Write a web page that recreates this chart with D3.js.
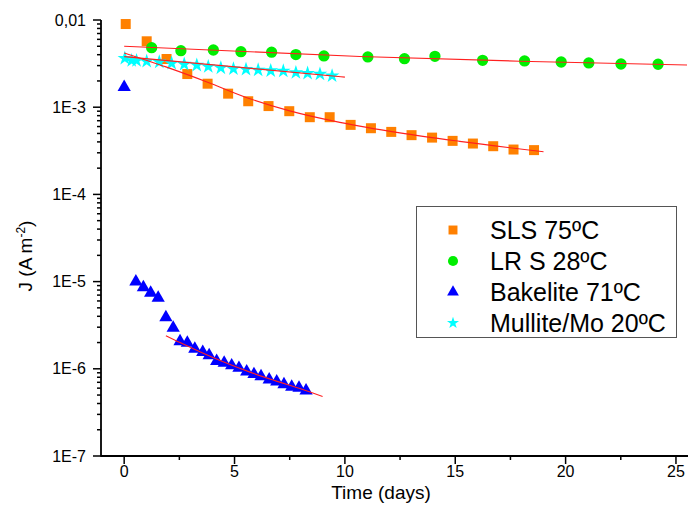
<!DOCTYPE html>
<html><head><meta charset="utf-8">
<script src="https://cdn.jsdelivr.net/npm/d3@7"></script>
<style>body{margin:0;background:#fff}svg{display:block}text{font-family:"Liberation Sans",Arial,sans-serif}</style>
</head><body><svg id="c" width="688" height="522"></svg>
<script>
// ---- data ----
const slsT = [0.07,1.02,1.92,2.86,3.78,4.71,5.62,6.54,7.48,8.41,9.31,10.26,11.18,12.1,13.02,13.95,14.88,15.8,16.72,17.64,18.57];
const slsJ = [8.99e-3,5.7e-3,3.57e-3,2.4e-3,1.86e-3,1.43e-3,1.17e-3,1.03e-3,9.0e-4,7.68e-4,7.68e-4,6.27e-4,5.74e-4,5.21e-4,4.78e-4,4.48e-4,4.11e-4,3.83e-4,3.57e-4,3.27e-4,3.22e-4];
const lrsT = [1.245,2.57,4.04,5.29,6.68,7.78,9.05,11.04,12.7,14.08,16.24,18.14,19.8,21.05,22.51,24.19];
const lrsJ = [4.82e-3,4.45e-3,4.53e-3,4.33e-3,4.27e-3,4.01e-3,3.87e-3,3.77e-3,3.6e-3,3.83e-3,3.45e-3,3.39e-3,3.3e-3,3.22e-3,3.13e-3,3.11e-3];
const bakT = [0,0.53,0.87,1.2,1.54,1.89,2.22,2.53,2.86,3.2,3.56,3.85,4.19,4.53,4.87,5.2,5.55,5.88,6.2,6.57,6.91,7.24,7.59,7.92,8.24];
const bakJ = [1.7e-3,1.0e-5,8.58e-6,7.4e-6,6.49e-6,3.89e-6,2.94e-6,2.06e-6,1.98e-6,1.69e-6,1.55e-6,1.42e-6,1.22e-6,1.17e-6,1.09e-6,1.02e-6,9.29e-7,8.65e-7,8.2e-7,7.52e-7,7.13e-7,6.64e-7,6.2e-7,6.04e-7,5.62e-7];
const mulT = [0.03,0.34,0.56,1.02,1.59,2.15,2.72,3.29,3.81,4.38,4.95,5.52,6.07,6.64,7.21,7.78,8.31,8.87,9.42];
const mulJ = [3.64e-3,3.42e-3,3.42e-3,3.36e-3,3.3e-3,3.19e-3,3.11e-3,3.03e-3,2.92e-3,2.82e-3,2.75e-3,2.72e-3,2.67e-3,2.62e-3,2.6e-3,2.49e-3,2.45e-3,2.4e-3,2.29e-3];
// fitted curves
const slsFitT = [0,1.89,3.75,5.7,7.5,9.77,12.49,15.2,19.0];
const slsFitJ = [4.19e-3,2.9e-3,1.95e-3,1.25e-3,9.07e-4,6.7e-4,5.08e-4,4.06e-4,3.08e-4];
const lrsFitT = [0,10.68,17.93,25.5];
const lrsFitJ = [5.0e-3,3.82e-3,3.37e-3,3.05e-3];
const bakFitT = [1.89,2.53,3.43,4.57,5.7,6.83,7.96,8.99];
const bakFitJ = [2.4e-6,2.0e-6,1.57e-6,1.18e-6,9.16e-7,7.32e-7,5.93e-7,4.8e-7];
const mulFitT = [0,5.02,10.0];
const mulFitJ = [3.8e-3,2.9e-3,2.21e-3];
const seriesNames = ["SLS 75ºC","LR S 28ºC","Bakelite 71ºC","Mullite/Mo 20ºC"];
const xTicks = [0,5,10,15,20,25];
const xMinor = [2.5,7.5,12.5,17.5,22.5];
const yTicks = [1e-2,1e-3,1e-4,1e-5,1e-6,1e-7];
const yTickLabels = ["0,01","1E-3","1E-4","1E-5","1E-6","1E-7"];

// ---- chart ----
const svg = d3.select("#c");
const x = d3.scaleLinear().domain([-1.05,25.5]).range([101,687]);
const y = d3.scaleLog().domain([1e-7,1e-2]).range([456,20]);

const series = [
  {t:slsT,j:slsJ,ft:slsFitT,fj:slsFitJ,sym:d3.symbolSquare,size:100,lsize:80,color:"#FF8000"},
  {t:lrsT,j:lrsJ,ft:lrsFitT,fj:lrsFitJ,sym:d3.symbolCircle,size:100,lsize:80,color:"#00EE00"},
  {t:bakT,j:bakJ,ft:bakFitT,fj:bakFitJ,sym:d3.symbolTriangle,size:76,lsize:60,color:"#0000FF"},
  {t:mulT,j:mulJ,ft:mulFitT,fj:mulFitJ,sym:d3.symbolStar,size:66,lsize:45,color:"#00FFFF"}
];

// markers
series.forEach(s=>{
  svg.append("g").selectAll("path").data(s.t.map((t,i)=>[t,s.j[i]])).join("path")
    .attr("transform",d=>`translate(${x(d[0])},${y(d[1])})`)
    .attr("d",d3.symbol(s.sym,s.size)).attr("fill",s.color);
});
// fit lines
const line = d3.line().x(d=>x(d[0])).y(d=>y(d[1])).curve(d3.curveMonotoneX);
series.forEach(s=>{
  svg.append("path").datum(s.ft.map((t,i)=>[t,s.fj[i]]))
    .attr("d",line).attr("fill","none").attr("stroke","#FF2020").attr("stroke-width",1.1);
});

// axes
const minorY = [];
for (let e=-7;e<-2;e++) for (let k=2;k<=9;k++) minorY.push(k*Math.pow(10,e));
const ax = svg.append("g").attr("stroke","#000");
ax.selectAll(".ym").data(minorY).join("line")
  .attr("x1",97).attr("x2",101).attr("y1",d=>y(d)).attr("y2",d=>y(d)).attr("stroke-width",1.5);
ax.selectAll(".yM").data(yTicks).join("line")
  .attr("x1",93).attr("x2",101).attr("y1",d=>y(d)).attr("y2",d=>y(d)).attr("stroke-width",1.5);
ax.selectAll(".xm").data(xMinor).join("line")
  .attr("x1",d=>x(d)).attr("x2",d=>x(d)).attr("y1",456).attr("y2",460).attr("stroke-width",1.5);
ax.selectAll(".xM").data(xTicks).join("line")
  .attr("x1",d=>x(d)).attr("x2",d=>x(d)).attr("y1",456).attr("y2",464).attr("stroke-width",1.5);
ax.append("line").attr("x1",101).attr("x2",101).attr("y1",y(1e-2)).attr("y2",456.75).attr("stroke-width",1.8);
ax.append("line").attr("x1",101).attr("x2",688).attr("y1",456).attr("y2",456).attr("stroke-width",1.8);

svg.append("g").selectAll("text").data(yTicks).join("text")
  .attr("x",86).attr("y",d=>y(d)).attr("dy","0.35em").attr("text-anchor","end")
  .attr("font-size",16).text((d,i)=>yTickLabels[i]);
svg.append("g").selectAll("text").data(xTicks).join("text")
  .attr("x",d=>x(d)).attr("y",477).attr("text-anchor","middle")
  .attr("font-size",16).text(d=>d);

svg.append("text").attr("x",381).attr("y",499).attr("text-anchor","middle")
  .attr("font-size",19).text("Time (days)");
const yl = svg.append("text").attr("transform","translate(32,256) rotate(-90)")
  .attr("text-anchor","middle").attr("font-size",19);
yl.append("tspan").text("J (A m");
yl.append("tspan").attr("dy",-7).attr("font-size",12).text("-2");
yl.append("tspan").attr("dy",7).text(")");

// legend
const lg = svg.append("g");
lg.append("rect").attr("x",416.5).attr("y",206.5).attr("width",260).attr("height",131)
  .attr("fill","#fff").attr("stroke","#555").attr("stroke-width",1);
series.forEach((s,i)=>{
  const cy = 230 + i*31;
  lg.append("path").attr("transform",`translate(453,${cy})`)
    .attr("d",d3.symbol(s.sym,s.lsize)).attr("fill",s.color);
  lg.append("text").attr("x",490).attr("y",cy).attr("dy","0.36em")
    .attr("font-size",25).text(seriesNames[i]);
});
</script></body></html>
